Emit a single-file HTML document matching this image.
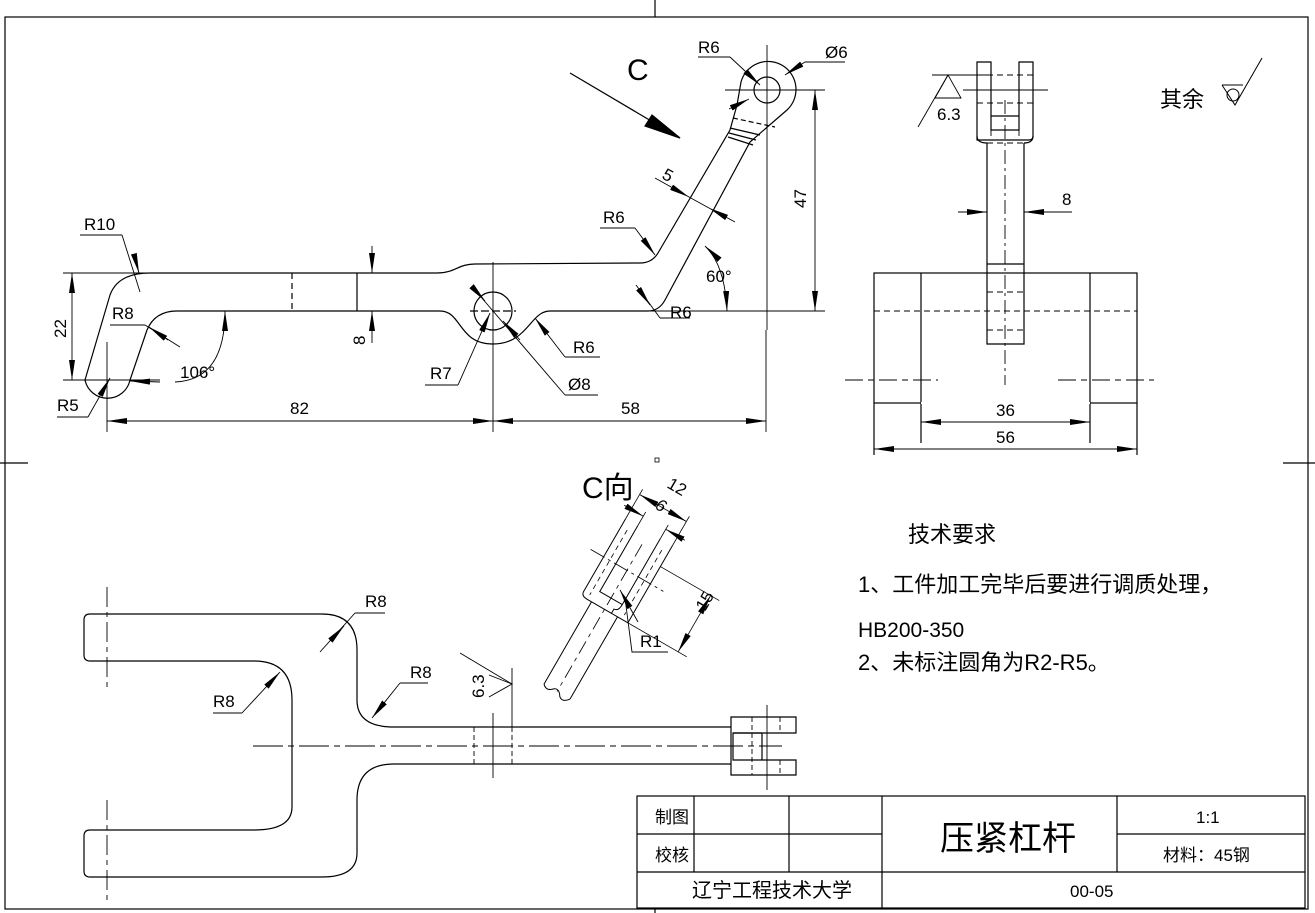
<!DOCTYPE html>
<html><head><meta charset="utf-8"><style>
html,body{margin:0;padding:0;background:#fff}
svg{display:block}
text{font-family:"Liberation Sans","Noto Sans CJK SC",sans-serif;fill:#000}
</style></head><body>
<svg width="1315" height="913" viewBox="0 0 1315 913" xmlns="http://www.w3.org/2000/svg">
<defs>
<marker id="a" viewBox="0 0 20 6" refX="20" refY="3" markerWidth="20" markerHeight="6" markerUnits="userSpaceOnUse" orient="auto-start-reverse"><path d="M0,0 L20,3 L0,6 z" fill="#000"/></marker>
</defs>
<g fill="none" stroke="#000" stroke-width="1.2">
<rect x="5" y="17" width="1303" height="892"/>
<line x1="655" y1="0" x2="655" y2="17"/><line x1="655" y1="909" x2="655" y2="913"/>
<line x1="0" y1="463" x2="28" y2="463"/><line x1="1283" y1="463" x2="1315" y2="463"/>
<rect x="637" y="796" width="668" height="112"/>
<line x1="637" y1="834" x2="882" y2="834"/><line x1="1117" y1="834" x2="1305" y2="834"/>
<line x1="637" y1="872" x2="1305" y2="872"/>
<line x1="694" y1="796" x2="694" y2="872"/><line x1="789" y1="796" x2="789" y2="872"/>
<line x1="882" y1="796" x2="882" y2="908"/><line x1="1117" y1="796" x2="1117" y2="872"/>

<path d="M150,273 L437,273 C455,273 458,264 475,264 L640,263 Q652,263 658,253 L730,130 L737,105 L741,82 A28,28 0 1 1 787,110 L750,142 L665,300 Q659,311 648,311 L550,311 C530,311 528,344 493,344 C458,344 462,311 440,311 L177,311 Q155,311 147,330 L130,380 A23,23 0 0 1 85,380 L110,295 Q118,273 150,273 Z"/>
<circle cx="767" cy="90" r="13"/>
<circle cx="493" cy="311" r="19"/>
<line x1="292" y1="273" x2="292" y2="311" stroke-dasharray="6,4"/>
<line x1="357" y1="273" x2="357" y2="311"/>
<line x1="733" y1="118" x2="775" y2="127" stroke-dasharray="5,3"/>
<line x1="730" y1="128" x2="760" y2="135"/><line x1="729" y1="133" x2="756" y2="140"/><line x1="728" y1="137" x2="753" y2="145"/>
<line x1="767" y1="45" x2="767" y2="330" stroke-width="0.9"/>
<line x1="725" y1="90" x2="825" y2="90" stroke-width="0.9"/>
<line x1="493" y1="262" x2="493" y2="432" stroke-width="0.9"/>
<line x1="470" y1="311" x2="516" y2="311" stroke-dasharray="8,3"/>
<line x1="107" y1="342" x2="107" y2="432" stroke-width="0.9"/>
<line x1="766" y1="330" x2="766" y2="432" stroke-width="0.9"/>
<g stroke-width="0.9">
<line x1="63" y1="273" x2="150" y2="273"/><line x1="63" y1="380" x2="160" y2="380"/>
<line x1="72" y1="273" x2="72" y2="380" marker-start="url(#a)" marker-end="url(#a)"/>
<line x1="107" y1="421" x2="493" y2="421" marker-start="url(#a)" marker-end="url(#a)"/>
<line x1="493" y1="421" x2="766" y2="421" marker-start="url(#a)" marker-end="url(#a)"/>
<line x1="650" y1="311" x2="825" y2="311"/>
<line x1="815" y1="90" x2="815" y2="311" marker-start="url(#a)" marker-end="url(#a)"/>
<line x1="372" y1="246" x2="372" y2="273" marker-end="url(#a)"/>
<line x1="372" y1="343" x2="372" y2="311" marker-end="url(#a)"/>
<line x1="80" y1="235" x2="122" y2="235"/><line x1="122" y1="235" x2="140" y2="292"/>
<line x1="135" y1="258" x2="139" y2="273" marker-end="url(#a)"/>
<line x1="110" y1="325" x2="145" y2="325"/><line x1="145" y1="325" x2="180" y2="347"/>
<line x1="168" y1="340" x2="149" y2="327" marker-end="url(#a)"/>
<line x1="57" y1="417" x2="88" y2="417"/><line x1="88" y1="417" x2="110" y2="378" marker-end="url(#a)"/>
<path d="M175,382 Q225,380 225,311" marker-end="url(#a)"/>
<line x1="160" y1="382" x2="130" y2="381" marker-end="url(#a)"/>
<line x1="425" y1="385" x2="458" y2="385"/><line x1="458" y1="385" x2="490" y2="313" marker-end="url(#a)"/>
<line x1="600" y1="357" x2="565" y2="357"/><line x1="565" y1="357" x2="535" y2="318" marker-end="url(#a)"/>
<line x1="598" y1="395" x2="565" y2="395"/><line x1="565" y1="395" x2="475" y2="290"/>
<line x1="520" y1="340" x2="503" y2="321" marker-end="url(#a)"/>
<line x1="485" y1="301" x2="475" y2="290" marker-start="url(#a)"/>
<line x1="600" y1="228" x2="635" y2="228"/><line x1="635" y1="228" x2="655" y2="255" marker-end="url(#a)"/>
<line x1="690" y1="318" x2="660" y2="318"/><line x1="660" y1="318" x2="636" y2="285"/>
<line x1="643" y1="295" x2="650" y2="305" marker-end="url(#a)"/>
<line x1="655" y1="178" x2="689" y2="197" marker-end="url(#a)"/>
<line x1="735" y1="222" x2="709" y2="208" marker-end="url(#a)"/>
<line x1="689" y1="197" x2="709" y2="208"/>
<path d="M705,246 Q725,265 727,311" marker-start="url(#a)" marker-end="url(#a)"/>
<line x1="698" y1="57" x2="730" y2="57"/><line x1="730" y1="57" x2="760" y2="85" marker-end="url(#a)"/>
<line x1="845" y1="62" x2="805" y2="62"/><line x1="805" y1="62" x2="785" y2="75" marker-end="url(#a)"/>
<line x1="729" y1="109" x2="749" y2="99" marker-end="url(#a)"/>
</g>
<line x1="570" y1="73" x2="680" y2="138" stroke-width="1.2"/>
<path d="M680,138 L645,126 L652,115 Z" fill="#000"/>

<path d="M977,62 L991,62 L991,130 L1019,130 L1019,62 L1033,62 L1033,136 Q1033,140 1029,140 L977,140 L977,62 Z"/>
<line x1="991" y1="116" x2="1019" y2="116"/>
<path d="M987,143 L987,344 L1024,344 L1024,143"/>
<path d="M977,136 Q977,143 987,143 M1033,136 Q1033,143 1024,143"/>
<line x1="987" y1="264" x2="1024" y2="264"/>
<g stroke-dasharray="6,4" stroke-width="0.9">
<line x1="977" y1="75" x2="1033" y2="75"/><line x1="977" y1="103" x2="1033" y2="103"/>
<line x1="991" y1="130" x2="991" y2="140"/><line x1="1019" y1="130" x2="1019" y2="140"/>
<line x1="987" y1="143" x2="1024" y2="143"/>
<line x1="987" y1="273" x2="987" y2="344"/><line x1="1024" y1="273" x2="1024" y2="344"/>
<line x1="987" y1="292" x2="1024" y2="292"/><line x1="987" y1="330" x2="1024" y2="330"/>
<line x1="874" y1="311" x2="1137" y2="311"/>
<line x1="1005" y1="100" x2="1005" y2="385" stroke-dasharray="14,4,3,4"/>
</g>
<line x1="963" y1="90" x2="1048" y2="90" stroke-width="0.9"/>
<rect x="874" y="273" width="263" height="130"/>
<line x1="921" y1="273" x2="921" y2="443"/><line x1="1090" y1="273" x2="1090" y2="443"/>
<line x1="874" y1="403" x2="874" y2="455"/><line x1="1137" y1="403" x2="1137" y2="455"/>
<line x1="921" y1="403" x2="1090" y2="403" stroke="#fff" stroke-width="2"/>
<g stroke-width="0.9">
<line x1="845" y1="380" x2="938" y2="380" stroke-dasharray="18,5,6,5"/>
<line x1="1058" y1="380" x2="1154" y2="380" stroke-dasharray="18,5,6,5"/>
<line x1="921" y1="422" x2="1090" y2="422" marker-start="url(#a)" marker-end="url(#a)"/>
<line x1="874" y1="449" x2="1137" y2="449" marker-start="url(#a)" marker-end="url(#a)"/>
<line x1="958" y1="212" x2="987" y2="212" marker-end="url(#a)"/>
<line x1="1072" y1="212" x2="1024" y2="212" marker-end="url(#a)"/>
<line x1="932" y1="75" x2="990" y2="75"/>
<path d="M935,98 L948,75 L961,98 Z"/>
<line x1="918" y1="127" x2="948" y2="75"/>
</g>
<path d="M1222,85 L1235,105 L1262,58" stroke-width="1"/>
<circle cx="1233" cy="95" r="6" stroke-width="1"/>
<line x1="1222" y1="85" x2="1243" y2="85" stroke-width="1"/>

<path d="M322,614 L90,614 Q84,614 84,620 L84,655 Q84,661 90,661 L254,661 Q292,661 292,700 L292,807 Q292,830 254,830 L90,830 Q84,830 84,836 L84,871 Q84,877 90,877 L322,877 Q357,877 357,853 L357,800 Q357,764 394,764 L731,764 M731,727 L394,727 Q357,727 357,700 L357,650 Q357,614 322,614"/>
<path d="M731,717 L796,717 L796,733 L733,733 L733,760 L796,760 L796,775 L731,775 Z"/>
<line x1="733" y1="733" x2="762" y2="733"/><line x1="762" y1="733" x2="762" y2="760"/>
<g stroke-dasharray="5,3" stroke-width="0.9">
<line x1="752" y1="717" x2="752" y2="775"/>
<line x1="780" y1="717" x2="780" y2="733"/><line x1="780" y1="760" x2="780" y2="775"/>
<line x1="474" y1="727" x2="474" y2="764"/><line x1="512" y1="727" x2="512" y2="764"/>
<line x1="107" y1="587" x2="107" y2="690" stroke-dasharray="20,5,5,5"/>
<line x1="107" y1="800" x2="107" y2="905" stroke-dasharray="20,5,5,5"/>
<line x1="253" y1="746" x2="782" y2="746" stroke-dasharray="30,5,6,5"/>
</g>
<line x1="767" y1="705" x2="767" y2="790" stroke-width="0.9"/>
<line x1="493" y1="713" x2="493" y2="778" stroke-width="0.9"/>
<g stroke-width="0.9">
<line x1="512" y1="668" x2="512" y2="727"/>
<path d="M489,675 L512,684 L489,697"/>
<line x1="460" y1="653" x2="512" y2="684"/>
<line x1="355" y1="613" x2="385" y2="613"/><line x1="355" y1="613" x2="320" y2="652"/>
<line x1="330" y1="641" x2="344" y2="626" marker-end="url(#a)"/>
<line x1="400" y1="683" x2="428" y2="683"/><line x1="400" y1="683" x2="372" y2="718" marker-end="url(#a)"/>
<line x1="213" y1="713" x2="242" y2="713"/><line x1="242" y1="713" x2="280" y2="672" marker-end="url(#a)"/>
</g>

<!-- C VIEW -->
<g transform="translate(607,605) rotate(30)" stroke-width="1">
<path d="M-15,5 L-15,100 M15,5 L15,100"/>
<path d="M-15,100 q5,5 10,0 q5,-5 10,3 M5,103 q5,4 10,-3"/>
<path d="M-27,-84 L-27,0 Q-27,5 -20,5 L27,5 L27,-84 M-13,-84 L-13,-8 L13,-8 Q13,0 8,0 L8,5 M13,-8 L13,-84"/>
<g stroke-dasharray="5,4" stroke-width="0.8">
<line x1="-20" y1="-75" x2="-20" y2="0"/><line x1="20" y1="-75" x2="20" y2="0"/>
<line x1="0" y1="-70" x2="0" y2="100" stroke-dasharray="14,5,4,5"/>
</g>
<line x1="-42" y1="-40" x2="42" y2="-40" stroke-width="0.8" stroke-dasharray="16,4,3,4"/>
<line x1="-27" y1="-84" x2="-27" y2="-118" stroke-width="0.8"/>
<line x1="27" y1="-84" x2="27" y2="-118" stroke-width="0.8"/>
<line x1="-13" y1="-84" x2="-13" y2="-100" stroke-width="0.8"/>
<line x1="13" y1="-84" x2="13" y2="-100" stroke-width="0.8"/>
<line x1="-27" y1="-112" x2="27" y2="-112" stroke-width="0.8" marker-start="url(#a)" marker-end="url(#a)"/>
<line x1="-35" y1="-95" x2="-13" y2="-95" stroke-width="0.8" marker-end="url(#a)"/>
<line x1="35" y1="-95" x2="13" y2="-95" stroke-width="0.8" marker-end="url(#a)"/>
<line x1="27" y1="-60" x2="95" y2="-60" stroke-width="0.8"/>
<line x1="27" y1="5" x2="95" y2="5" stroke-width="0.8"/>
<line x1="85" y1="-60" x2="85" y2="5" stroke-width="0.8" marker-start="url(#a)" marker-end="url(#a)"/>
</g>
<line x1="638" y1="622" x2="620" y2="590" stroke-width="0.9" marker-end="url(#a)"/>
<path d="M625,598 L632,652 L668,652" stroke-width="0.9"/>
<rect x="655" y="458" width="4" height="4" stroke-width="0.8"/>
</g>

<g font-size="17">
<text x="627" y="80" font-size="30">C</text>
<text x="84" y="230">R10</text>
<text x="112" y="319">R8</text>
<text x="57" y="411">R5</text>
<text x="180" y="378">106°</text>
<text x="430" y="379">R7</text>
<text x="573" y="353">R6</text>
<text x="568" y="390">Ø8</text>
<text x="290" y="414">82</text>
<text x="621" y="414">58</text>
<text x="603" y="223">R6</text>
<text x="670" y="318">R6</text>
<text x="706" y="282">60°</text>
<text x="698" y="53">R6</text>
<text x="825" y="58">Ø6</text>
<text transform="translate(66,338) rotate(-90)">22</text>
<text transform="translate(365,345) rotate(-90)">8</text>
<text transform="translate(806,208) rotate(-90)">47</text>
<text transform="translate(661,178) rotate(28)">5</text>
<text x="937" y="120">6.3</text>
<text x="1062" y="205">8</text>
<text x="996" y="416">36</text>
<text x="996" y="443">56</text>
<text x="1160" y="107" font-size="22">其余</text>
<text x="582" y="498" font-size="30">C向</text>
<text transform="translate(666,487) rotate(30)">12</text>
<text transform="translate(654,508) rotate(30)" font-style="italic">6</text>
<text transform="translate(705,612) rotate(-60)">15</text>
<text x="640" y="647">R1</text>
<text x="365" y="607">R8</text>
<text x="410" y="678">R8</text>
<text x="213" y="707">R8</text>
<text transform="translate(484,698) rotate(-90)">6.3</text>
<text x="908" y="542" font-size="22">技术要求</text>
<text x="858" y="592" font-size="22">1、工件加工完毕后要进行调质处理，</text>
<text x="858" y="637" font-size="21">HB200-350</text>
<text x="858" y="670" font-size="22">2、未标注圆角为R2-R5。</text>
<text x="655" y="823">制图</text>
<text x="655" y="861">校核</text>
<text x="940" y="850" font-size="34">压紧杠杆</text>
<text x="1196" y="823">1:1</text>
<text x="1163" y="861">材料：45钢</text>
<text x="692" y="897" font-size="20">辽宁工程技术大学</text>
<text x="1070" y="897">00-05</text>
</g>
</svg>
</body></html>
